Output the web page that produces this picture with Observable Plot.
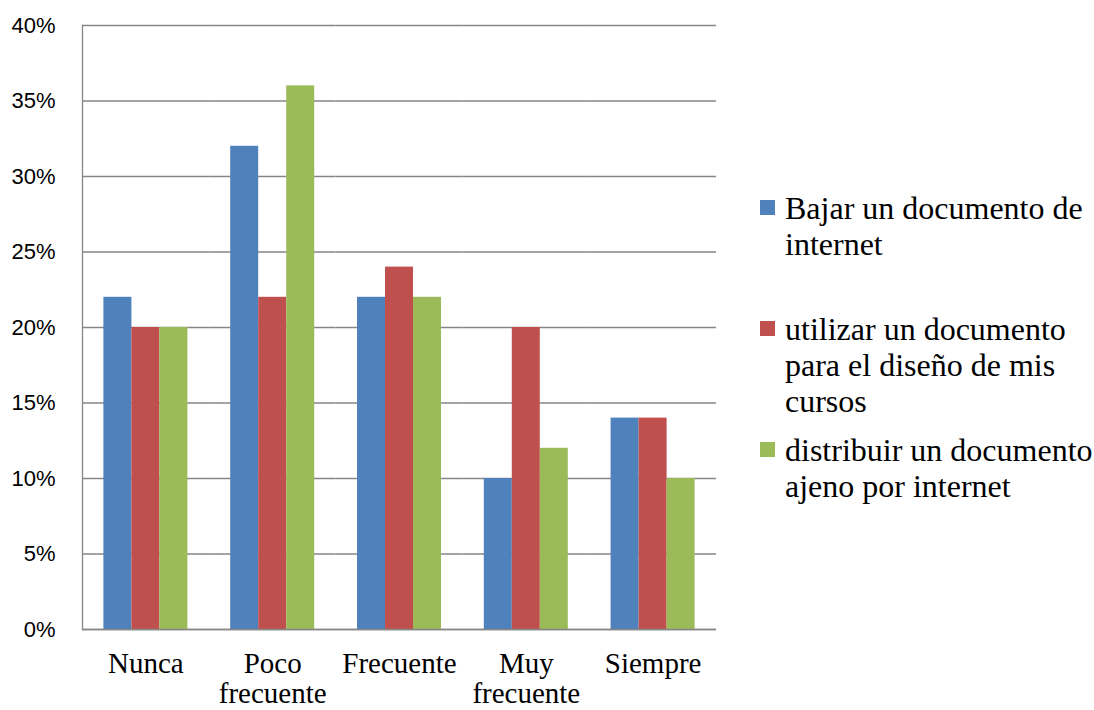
<!DOCTYPE html>
<html>
<head>
<meta charset="utf-8">
<script src="https://cdn.jsdelivr.net/npm/d3@7"></script>
<script src="https://cdn.jsdelivr.net/npm/@observablehq/plot@0.6"></script>
<style>
  html, body { margin: 0; padding: 0; background: #fff; }
  #wrap { position: relative; width: 1094px; height: 710px; overflow: hidden; }
  #chart { position: absolute; left: 0; top: 0; }
  #legend { position: absolute; left: 760px; top: 190px; font-family: "Liberation Serif", "Times New Roman", serif; font-size: 32px; line-height: 36px; color: #000; }
  .entry { position: relative; height: 121px; padding-left: 25px; white-space: pre; }
  .sw { position: absolute; left: 0; top: 10px; width: 15px; height: 15px; }
</style>
</head>
<body>
<div id="wrap">
  <div id="chart"></div>
  <div id="legend"></div>
</div>
<script>
const categories = ["Nunca", "Poco frecuente", "Frecuente", "Muy frecuente", "Siempre"];
const categoryLabels = ["Nunca", "Poco\nfrecuente", "Frecuente", "Muy\nfrecuente", "Siempre"];
const series = [
  "Bajar un documento de internet",
  "utilizar un documento para el diseño de mis cursos",
  "distribuir un documento ajeno por internet"
];
const legendLabels = [
  "Bajar un documento de\ninternet",
  "utilizar un documento\npara el diseño de mis\ncursos",
  "distribuir un documento\najeno por internet"
];
const colors = ["#4F81BD", "#C0504D", "#9BBB59"];
const bajar = [22, 32, 22, 10, 14];
const utilizar = [20, 22, 24, 20, 14];
const distribuir = [20, 36, 22, 12, 10];
const yTicks = [0, 5, 10, 15, 20, 25, 30, 35, 40];

const seriesValues = [bajar, utilizar, distribuir];
const data = categories.flatMap((c, i) =>
  series.map((s, j) => ({ category: c, series: s, value: seriesValues[j][i] / 100 }))
);
const tickVals = yTicks.map(d => d / 100);
const grey = "#868686";

const chart = Plot.plot({
  width: 730,
  height: 710,
  marginLeft: 82,
  marginRight: 14,
  marginTop: 25,
  marginBottom: 81,
  style: { background: "#fff", overflow: "visible" },
  fx: { domain: categories, padding: 0, round: false, label: null },
  x: { domain: series, paddingInner: 0, paddingOuter: 0.764, round: false, axis: null },
  y: { domain: [0, 0.4], label: null },
  color: { domain: series, range: colors },
  marks: [
    Plot.gridY(tickVals, { stroke: grey, strokeOpacity: 1, strokeWidth: 1.3 }),
    Plot.barY(data, { fx: "category", x: "series", y: "value", fill: "series" }),
    Plot.ruleY([0], { stroke: grey, strokeWidth: 1.3 }),
    Plot.frame({ anchor: "left", facetAnchor: "left", stroke: grey, strokeWidth: 1.3 }),
    Plot.axisY(tickVals, {
      tickSize: 0, tickPadding: 27, label: null,
      tickFormat: d => Math.round(d * 100) + "%",
      fontSize: 22, fontFamily: "Liberation Sans, Arial, sans-serif", fill: "#000"
    }),
    Plot.axisFx({
      anchor: "bottom", tickSize: 0, tickPadding: 22, label: null,
      tickFormat: c => categoryLabels[categories.indexOf(c)],
      fontSize: 29, lineHeight: 1.04, fontFamily: "Liberation Serif, Times New Roman, serif", fill: "#000"
    })
  ]
});
document.getElementById("chart").appendChild(chart);

const legend = document.getElementById("legend");
series.forEach((s, i) => {
  const e = document.createElement("div");
  e.className = "entry";
  const sw = document.createElement("div");
  sw.className = "sw";
  sw.style.background = colors[i];
  e.appendChild(sw);
  e.appendChild(document.createTextNode(legendLabels[i]));
  legend.appendChild(e);
});
</script>
</body>
</html>
